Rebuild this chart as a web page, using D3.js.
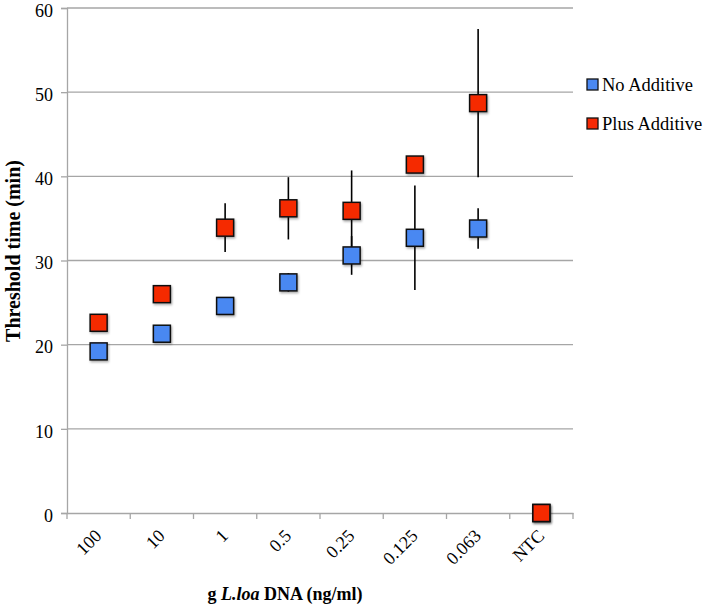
<!DOCTYPE html>
<html><head><meta charset="utf-8">
<script src="https://cdn.jsdelivr.net/npm/d3@7"></script>
<style>html,body{margin:0;padding:0;background:#fff;}</style>
</head>
<body>
<svg id="chart" width="705" height="606"></svg>
<script>
const categories = ["100","10","1","0.5","0.25","0.125","0.063","NTC"];
const noAdditive = [19.2, 21.3, 24.6, 27.4, 30.6, 32.7, 33.8, 0];
const noAdditiveErr = [0, 0, 0, 1.1, 2.3, 6.2, 2.4, 0];
const plusAdditive = [22.6, 26.0, 33.9, 36.2, 35.9, 41.4, 48.7, 0];
const plusAdditiveErr = [0, 0, 2.9, 3.7, 4.8, 0, 8.8, 0];
const yTicks = [0, 10, 20, 30, 40, 50, 60];
const seriesNames = ["No Additive", "Plus Additive"];
const seriesColors = ["#4a88f2", "#f52a05"];

const FONT = "Liberation Serif";
const svg = d3.select("#chart");
const x = d3.scaleBand().domain(categories).range([67, 573]);
const y = d3.scaleLinear().domain([0, 60]).range([513, 8]);
const grey = "#a6a6a6";

const defs = svg.append("defs");
const f = defs.append("filter").attr("id","sh").attr("x","-50%").attr("y","-50%").attr("width","200%").attr("height","200%");
f.append("feDropShadow").attr("dx",1).attr("dy",1.5).attr("stdDeviation",1.2).attr("flood-color","#000").attr("flood-opacity",0.35);

// gridlines
svg.append("g").selectAll("line").data(yTicks.filter(d => d > 0)).join("line")
  .attr("x1", 67).attr("x2", 573)
  .attr("y1", d => y(d)).attr("y2", d => y(d))
  .attr("stroke", grey).attr("stroke-width", 1.3);

// y axis
const yAxis = svg.append("g").attr("transform","translate(67,0)")
  .call(d3.axisLeft(y).tickValues(yTicks).tickSize(6).tickPadding(8));
yAxis.attr("font-family", FONT).attr("font-size", 18);
yAxis.select(".domain").attr("stroke", grey).attr("stroke-width",1.3);
yAxis.selectAll(".tick line").attr("stroke", grey).attr("stroke-width",1.3);
yAxis.selectAll(".tick text").attr("fill","#000").attr("dy","0.46em");

// x axis
const xAxis = svg.append("g").attr("transform","translate(0,513)")
  .call(d3.axisBottom(x).tickSize(0).tickFormat(""));
xAxis.select(".domain").attr("stroke", grey).attr("stroke-width",1.3);
const bounds = categories.map(c => x(c)).concat([x.range()[1]]);
svg.append("g").selectAll("line").data(bounds).join("line")
  .attr("x1", d => d).attr("x2", d => d).attr("y1", 513).attr("y2", 519)
  .attr("stroke", grey).attr("stroke-width", 1.3);
svg.append("g").attr("font-family", FONT).selectAll("text").data(categories).join("text")
  .attr("transform", d => `translate(${x(d) + x.bandwidth()/2 + 4},${537}) rotate(-45)`)
  .attr("text-anchor","end").attr("font-size", 18)
  .text(d => d);

// error bars + markers
const series = [
  {vals: noAdditive, err: noAdditiveErr, color: seriesColors[0]},
  {vals: plusAdditive, err: plusAdditiveErr, color: seriesColors[1]}
];
const eg = svg.append("g");
series.forEach(s => {
  eg.append("g").selectAll("line").data(categories.map((c,i)=>({c, v:s.vals[i], e:s.err[i]})).filter(d=>d.e>0)).join("line")
    .attr("x1", d => x(d.c)+x.bandwidth()/2).attr("x2", d => x(d.c)+x.bandwidth()/2)
    .attr("y1", d => y(d.v + d.e)).attr("y2", d => y(d.v - d.e))
    .attr("stroke","#000").attr("stroke-width",1.6);
});
const sz = 17;
series.forEach(s => {
  svg.append("g").selectAll("rect").data(categories.map((c,i)=>({c, v:s.vals[i]}))).join("rect")
    .attr("x", d => x(d.c)+x.bandwidth()/2 - sz/2).attr("y", d => y(d.v) - sz/2)
    .attr("width", sz).attr("height", sz)
    .attr("fill", s.color).attr("stroke","#111").attr("stroke-width",1.5)
    .attr("filter","url(#sh)");
});

// legend
const lg = svg.append("g").attr("font-family", FONT);
seriesNames.forEach((n,i) => {
  const yy = 79 + i*39;
  lg.append("rect").attr("x",587).attr("y",yy).attr("width",11).attr("height",11)
    .attr("fill",seriesColors[i]).attr("stroke","#111").attr("stroke-width",1.3);
  lg.append("text").attr("x",602).attr("y",yy+12).attr("font-size",18.5).text(n);
});

// axis titles
svg.append("text").attr("transform","translate(20,251) rotate(-90)")
  .attr("text-anchor","middle").attr("font-size",20).attr("font-weight","bold").attr("font-family", FONT)
  .text("Threshold time (min)");
const xt = svg.append("text").attr("x",285).attr("y",600).attr("text-anchor","middle")
  .attr("font-size",18).attr("font-weight","bold").attr("font-family", FONT);
xt.append("tspan").text("g ");
xt.append("tspan").attr("font-style","italic").text("L.loa");
xt.append("tspan").text(" DNA (ng/ml)");
</script>
</body></html>
